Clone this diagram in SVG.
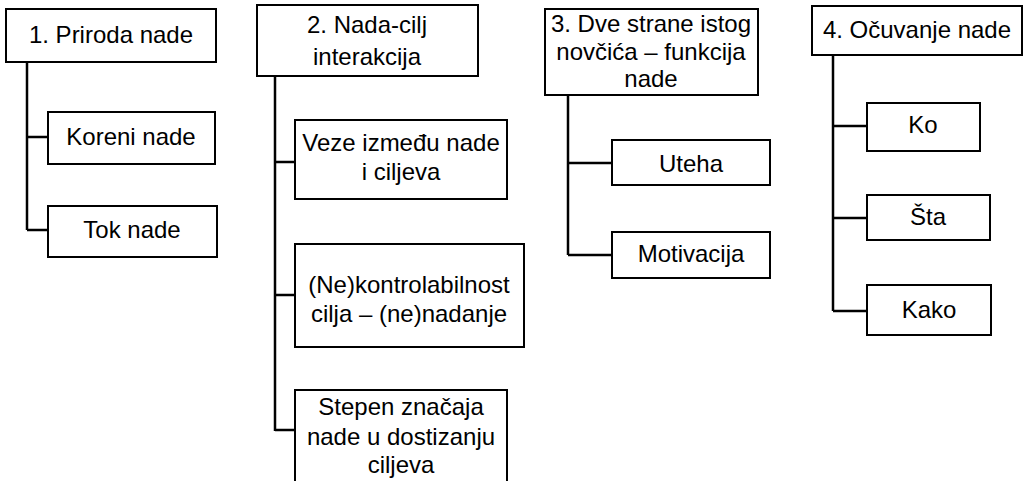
<svg xmlns="http://www.w3.org/2000/svg" width="1028" height="481" viewBox="0 0 1028 481">
<style>
.box{fill:#fff;stroke:#000;stroke-width:2}
.t{font-family:"Liberation Sans",Arial,sans-serif;font-size:24px;fill:#000;text-anchor:middle}
.c{fill:none;stroke:#000;stroke-width:2.5}
</style>
<rect width="1028" height="481" fill="#fff"/>
<g id="connectors">
<path class="c" d="M27 62V230M27 137H48M27 230H48"/>
<path class="c" d="M275 76V431M275 162H295M275 295H295M275 430H295"/>
<path class="c" d="M568 95V255M568 163H612M568 255H612"/>
<path class="c" d="M833 55V311M833 126H867M833 218H867M833 311H867"/>
</g>
<g id="n1"><rect class="box" x="6" y="9" width="210" height="53"/><text class="t" x="111" y="43">1. Priroda nade</text></g>
<g id="n1a"><rect class="box" x="48" y="112" width="167" height="52"/><text class="t" x="131" y="145">Koreni nade</text></g>
<g id="n1b"><rect class="box" x="48" y="206" width="169" height="51"/><text class="t" x="132" y="238">Tok nade</text></g>
<g id="n2"><rect class="box" x="257" y="5" width="221" height="71"/><text class="t" x="367" y="33">2. Nada-cilj</text><text class="t" x="367" y="65">interakcija</text></g>
<g id="n2a"><rect class="box" x="295" y="120" width="212" height="79"/><text class="t" x="401" y="151">Veze između nade</text><text class="t" x="401" y="180">i ciljeva</text></g>
<g id="n2b"><rect class="box" x="295" y="244" width="229" height="103"/><text class="t" x="409" y="293">(Ne)kontrolabilnost</text><text class="t" x="409" y="322">cilja – (ne)nadanje</text></g>
<g id="n2c"><rect class="box" x="295" y="390" width="212" height="100"/><text class="t" x="401" y="415">Stepen značaja</text><text class="t" x="401" y="445">nade u dostizanju</text><text class="t" x="401" y="473">ciljeva</text></g>
<g id="n3"><rect class="box" x="545" y="9" width="213" height="86"/><text class="t" x="651" y="32">3. Dve strane istog</text><text class="t" x="651" y="60">novčića – funkcija</text><text class="t" x="651" y="87">nade</text></g>
<g id="n3a"><rect class="box" x="612" y="140" width="158" height="45"/><text class="t" x="691" y="172">Uteha</text></g>
<g id="n3b"><rect class="box" x="612" y="232" width="158" height="46"/><text class="t" x="691" y="262">Motivacija</text></g>
<g id="n4"><rect class="box" x="812" y="6" width="210" height="49"/><text class="t" x="917" y="38">4. Očuvanje nade</text></g>
<g id="n4a"><rect class="box" x="867" y="103" width="113" height="48"/><text class="t" x="923" y="133">Ko</text></g>
<g id="n4b"><rect class="box" x="867" y="195" width="123" height="45"/><text class="t" x="928" y="225">Šta</text></g>
<g id="n4c"><rect class="box" x="867" y="285" width="124" height="50"/><text class="t" x="929" y="318">Kako</text></g>
</svg>
